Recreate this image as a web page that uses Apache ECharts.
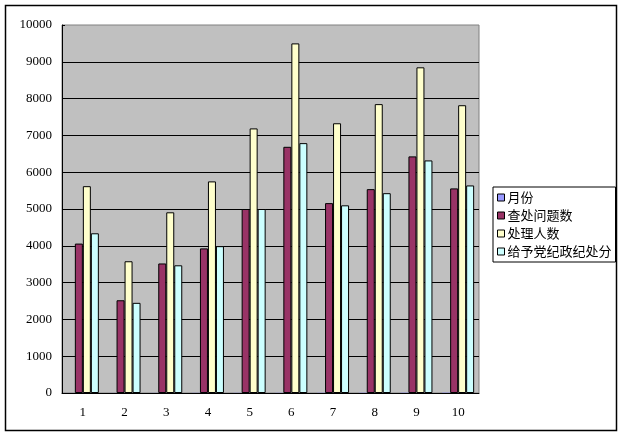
<!DOCTYPE html>
<html><head><meta charset="utf-8">
<script src="https://cdn.jsdelivr.net/npm/echarts@6/dist/echarts.min.js"></script>
<style>html,body{margin:0;padding:0;background:#fff}#c{width:624px;height:438px}</style>
</head><body><div id="c"></div>
<script>
const categories = ['1','2','3','4','5','6','7','8','9','10'];
const seriesNames = ['月份','查处问题数','处理人数','给予党纪政纪处分'];
const monthValues = [1,2,3,4,5,6,7,8,9,10];
const problemValues = [4060,2520,3520,3930,5000,6690,5160,5540,6430,5560];
const peopleValues = [5620,3580,4910,5750,7190,9500,7330,7850,8850,7820];
const punishValues = [4340,2450,3470,3990,5000,6790,5100,5430,6320,5640];
const colors = ['#9999FF','#993366','#FFFFCC','#CCFFFF'];

const chart = echarts.init(document.getElementById('c'), null, {renderer:'canvas'});
const dataSets = [monthValues, problemValues, peopleValues, punishValues];
chart.setOption({
  animation:false,
  graphic:[{type:'rect', shape:{x:5.5,y:5.5,width:611,height:425}, style:{fill:'none',stroke:'#000',lineWidth:1.5}, z:-1}],
  grid:{left:62, top:25, width:417, height:368, show:true, backgroundColor:'#C0C0C0', borderColor:'#808080', borderWidth:1},
  legend:{orient:'vertical', left:493, top:187, padding:[4,4,4,4], borderColor:'#000', borderWidth:1, backgroundColor:'#fff',
    itemWidth:7, itemHeight:7, itemGap:5, icon:'rect',
    itemStyle:{borderColor:'#000', borderWidth:1},
    textStyle:{fontFamily:'Noto Sans CJK SC', fontSize:13, lineHeight:13, color:'#000', padding:[0,0,0,-2]},
    data:seriesNames},
  xAxis:{type:'category', data:categories,
    axisLine:{lineStyle:{color:'#000',width:1}},
    axisTick:{inside:true, length:4, lineStyle:{color:'#000'}},
    axisLabel:{fontFamily:'Liberation Serif', fontSize:13, color:'#000', margin:13}},
  yAxis:{type:'value', min:0, max:10000, interval:1000,
    axisLine:{show:true, lineStyle:{color:'#000',width:1}},
    axisTick:{show:true, inside:true, length:3, lineStyle:{color:'#000'}},
    splitLine:{show:true, showMaxLine:false, lineStyle:{color:'#000',width:1}},
    axisLabel:{fontFamily:'Liberation Serif', fontSize:13, color:'#000', margin:10,
      formatter:(v)=>String(v)}},
  series: seriesNames.map((n,i)=>({
    name:n, type:'bar', data:dataSets[i], barWidth:8, barGap:'0%',
    itemStyle:{color:colors[i], borderColor:'#000', borderWidth:i===0?0:1}
  }))
});
</script></body></html>
